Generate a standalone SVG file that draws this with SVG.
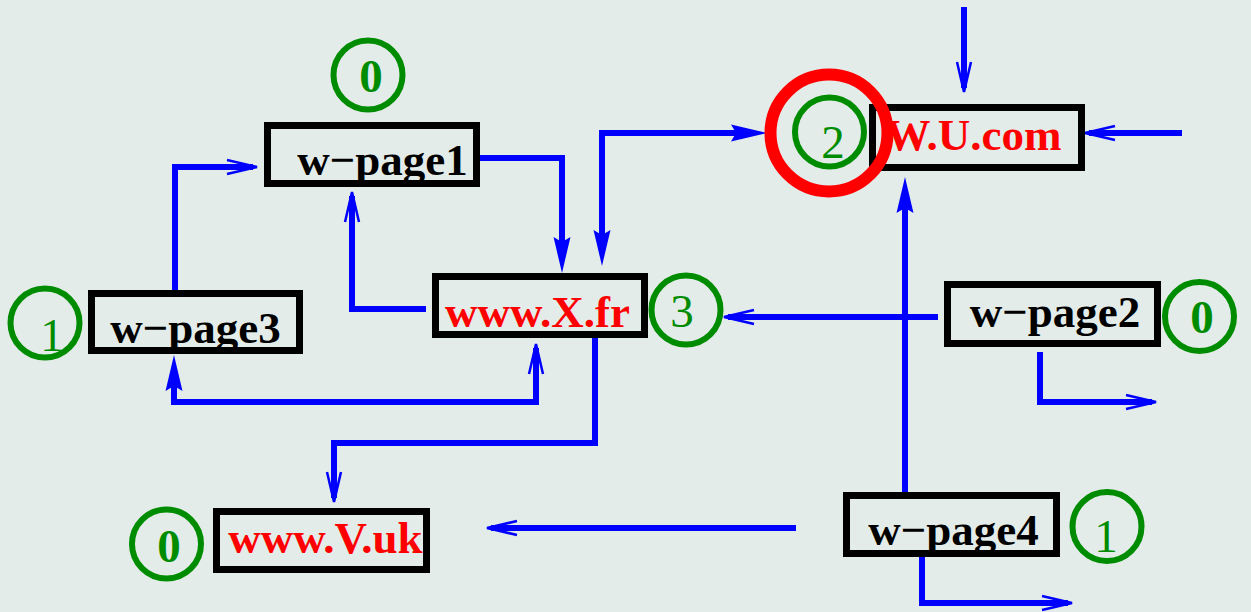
<svg xmlns="http://www.w3.org/2000/svg" width="1251" height="612" viewBox="0 0 1251 612">
<style>
.box{fill:none;stroke:#000;stroke-width:7}
.lbl{font-family:"Liberation Serif","Times New Roman",serif;font-weight:bold;font-size:45px;text-anchor:middle}
.blk{fill:#000}
.red{fill:#ff0000}
.cnt{fill:none;stroke:#008c00;stroke-width:6}
.num{font-family:"Liberation Serif","Times New Roman",serif;font-size:47px;fill:#008c00;text-anchor:middle}
.b{font-weight:bold}
.ln{fill:none;stroke:#0000ff;stroke-width:6}
</style>
<defs>
<marker id="op" markerUnits="userSpaceOnUse" viewBox="-30 -10 36 20" refX="0" refY="0" markerWidth="36" markerHeight="20" orient="auto-start-reverse" overflow="visible">
<path d="M-26,-7 L4,0 L-26,7" fill="none" stroke="#0000ff" stroke-width="2.5"/>
</marker>
<marker id="fl" markerUnits="userSpaceOnUse" viewBox="-10 -10 40 20" refX="0" refY="0" markerWidth="40" markerHeight="20" orient="auto-start-reverse" overflow="visible">
<path d="M-8,-8.5 L28,0 L-8,8.5 L-3,0 Z" fill="#0000ff"/>
</marker>
</defs>
<rect width="1251" height="612" fill="#e3ece9"/>
<g id="connectors">
<path class="ln" d="M175,293 V167 H253" marker-end="url(#op)"/>
<path class="ln" d="M426,309 H352 V196" marker-end="url(#op)"/>
<path class="ln" d="M477,158 H562 V245" marker-end="url(#fl)"/>
<path class="ln" d="M602,238 V133 H739" marker-start="url(#fl)" marker-end="url(#fl)"/>
<path class="ln" d="M174,383 V402 H536 V348" marker-start="url(#fl)" marker-end="url(#op)"/>
<path class="ln" d="M595,338 V443 H334 V498" marker-end="url(#op)"/>
<path class="ln" d="M938,317 H728" marker-end="url(#op)"/>
<path class="ln" d="M905,492 V205" marker-end="url(#fl)"/>
<path class="ln" d="M964,7 V88" marker-end="url(#op)"/>
<path class="ln" d="M1182,133 H1089" marker-end="url(#op)"/>
<path class="ln" d="M1040,352 V402 H1152" marker-end="url(#op)"/>
<path class="ln" d="M796,528 H491" marker-end="url(#op)"/>
<path class="ln" d="M922,557 V603 H1068" marker-end="url(#op)"/>
</g>
<g id="n-wpage1">
<rect class="box" x="267.5" y="125.5" width="209" height="58"/>
<text class="lbl blk" x="382.5" y="175">w−page1</text>
<circle class="cnt" cx="368" cy="75" r="34.5"/>
<text class="num b" x="371" y="92">0</text>
</g>
<g id="n-wwwXfr">
<rect class="box" x="435.5" y="276.5" width="209" height="58"/>
<text class="lbl red" x="537.5" y="327">www.X.fr</text>
<circle class="cnt" cx="686" cy="310" r="34.5"/>
<text class="num" x="682" y="327">3</text>
</g>
<g id="n-WUcom">
<rect class="box" x="872.5" y="107.5" width="209" height="60"/>
<text class="lbl red" x="973.5" y="150">W.U.com</text>
<circle cx="829" cy="133" r="58.5" fill="none" stroke="#ff0000" stroke-width="12"/>
<circle class="cnt" cx="829.5" cy="132" r="34.5"/>
<text class="num" x="833" y="158">2</text>
</g>
<g id="n-wpage3">
<rect class="box" x="91.5" y="293.5" width="208" height="57"/>
<text class="lbl blk" x="195.5" y="343">w−page3</text>
<circle class="cnt" cx="45" cy="323" r="34.5"/>
<text class="num" x="52" y="351">1</text>
</g>
<g id="n-wpage2">
<rect class="box" x="947.5" y="284.5" width="210" height="59"/>
<text class="lbl blk" x="1055" y="327">w−page2</text>
<circle class="cnt" cx="1199.5" cy="316.5" r="34.5"/>
<text class="num b" x="1202" y="333">0</text>
</g>
<g id="n-wwwVuk">
<rect class="box" x="216.5" y="511.5" width="210" height="58"/>
<text class="lbl red" x="325.5" y="553">www.V.uk</text>
<circle class="cnt" cx="166.5" cy="544" r="34.5"/>
<text class="num b" x="169" y="562">0</text>
</g>
<g id="n-wpage4">
<rect class="box" x="846.5" y="495.5" width="210" height="58"/>
<text class="lbl blk" x="953.5" y="545">w−page4</text>
<circle class="cnt" cx="1107" cy="526.5" r="34.5"/>
<text class="num" x="1106" y="552">1</text>
</g>
</svg>
